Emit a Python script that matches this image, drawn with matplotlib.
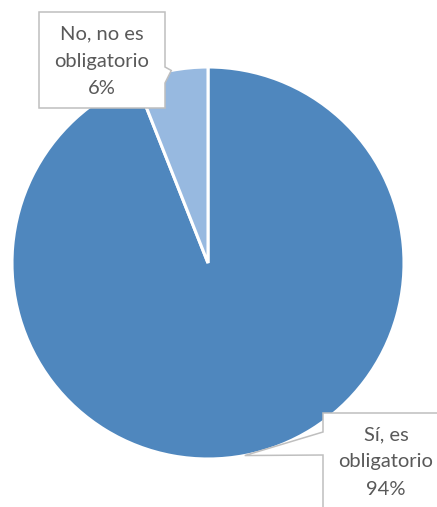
import numpy as np
import matplotlib
matplotlib.use('Agg')
import matplotlib.pyplot as plt
from matplotlib.patches import Polygon

# answers and their shares (%)
labels = ['Sí, es\nobligatorio', 'No, no es\nobligatorio']
shares = [94, 6]
colors = ['#4F87BE', '#97B9E0']

# canvas in pixels
W, H = 437, 507
CX, CY, R = 208, H - 263, 196

fig = plt.figure(figsize=(W / 100, H / 100), dpi=100)
ax = fig.add_axes([0, 0, 1, 1])

wedges, _ = ax.pie(shares, colors=colors, startangle=90, counterclock=False,
                   radius=R, center=(CX, CY),
                   wedgeprops=dict(edgecolor='white', linewidth=2.2))
ax.set_xlim(0, W)
ax.set_ylim(0, H)
ax.set_aspect('equal')
ax.axis('off')

# callout boxes: (left, bottom, width, height) and pointer base on the box side
boxes = [
    dict(rect=(323, -2, 126, 96), side='left', base=(75, 52)),
    dict(rect=(39, 399, 126, 96), side='right', base=(440, 424)),
]

for w, lab, val, bx in zip(wedges, labels, shares, boxes):
    mid = np.deg2rad((w.theta1 + w.theta2) / 2)
    tip = (CX + R * np.cos(mid), CY + R * np.sin(mid))
    x0, y0, bw, bh = bx['rect']
    x1, y1 = x0 + bw, y0 + bh
    b_hi, b_lo = bx['base']
    if bx['side'] == 'right':
        pts = [(x0, y1), (x1, y1), (x1, b_hi), tip, (x1, b_lo), (x1, y0), (x0, y0)]
    else:
        pts = [(x0, y1), (x1, y1), (x1, y0), (x0, y0), (x0, b_lo), tip, (x0, b_hi)]
    ax.add_patch(Polygon(pts, closed=True, facecolor='white', edgecolor='#BFBFBF',
                         linewidth=1.1, zorder=3, clip_on=False))
    ax.text(x0 + bw / 2, y0 + bh / 2 - 1, '%s\n%d%%' % (lab, val), ha='center', va='center',
            fontsize=14.5, family='Lato', color='#595959', linespacing=1.72, zorder=4)

fig.savefig('out.png', dpi=100)
